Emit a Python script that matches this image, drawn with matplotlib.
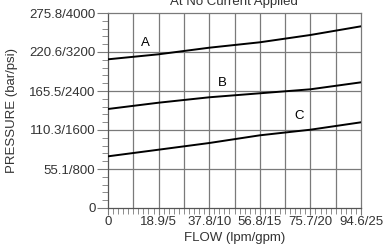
import matplotlib
matplotlib.use("Agg")
import matplotlib.pyplot as plt
from matplotlib.ticker import MultipleLocator

plt.rcParams['font.family'] = ['Liberation Sans', 'DejaVu Sans']

# flow in gpm, pressure in psi
flow = [0, 5, 10, 15, 20, 25]
curve_a = [3050, 3153, 3288, 3399, 3549, 3727]
curve_b = [2031, 2160, 2271, 2353, 2435, 2578]
curve_c = [1060, 1196, 1333, 1491, 1606, 1758]

labels = ['A', 'B', 'C']
label_x = [3.7, 11.3, 18.9]
label_y = [3385, 2564, 1887]

x_ticks = [0, 5, 10, 15, 20, 25]
x_ticklabels = ['0', '18.9/5', '37.8/10', '56.8/15', '75.7/20', '94.6/25']
y_ticks = [0, 800, 1600, 2400, 3200, 4000]
y_ticklabels = ['0', '55.1/800', '110.3/1600', '165.5/2400', '220.6/3200', '275.8/4000']

fig = plt.figure(figsize=(3.84, 2.46), dpi=100)
ax = fig.add_axes([108/384, 1 - 208/246, 253/384, 195/246])

grid_col = '#7a7a7a'
for x in [2.5 * i for i in range(1, 10)]:
    ax.axvline(x, color=grid_col, lw=0.9, zorder=1)
for y in y_ticks[1:-1]:
    ax.axhline(y, color=grid_col, lw=0.9, zorder=1)

for ys in [curve_a, curve_b, curve_c]:
    ax.plot(flow, ys, color='black', lw=1.4, zorder=3)

for lab, lx, ly in zip(labels, label_x, label_y):
    ax.text(lx, ly, lab, fontsize=9.5, ha='center', va='center')

ax.set_xlim(0, 25)
ax.set_ylim(0, 4000)
ax.set_xticks(x_ticks)
ax.set_xticklabels(x_ticklabels)
ax.set_yticks(y_ticks)
ax.set_yticklabels(y_ticklabels)
ax.xaxis.set_minor_locator(MultipleLocator(0.5))
ax.yaxis.set_minor_locator(MultipleLocator(160))
ax.tick_params(axis='both', labelsize=9.5, colors='#333333')
ax.tick_params(axis='x', which='major', length=5, pad=1, color=grid_col)
ax.tick_params(axis='x', which='minor', length=4, color=grid_col)
ax.tick_params(axis='y', which='major', length=8, pad=1, color=grid_col)
ax.tick_params(axis='y', which='minor', length=4, color=grid_col)
for s in ax.spines.values():
    s.set_color(grid_col)
    s.set_linewidth(0.9)
ax.spines['left'].set_color('#555555')
ax.spines['bottom'].set_color('#555555')

ax.set_xlabel('FLOW (lpm/gpm)', fontsize=9.5, labelpad=2.5, color='#333333')
ax.set_ylabel('PRESSURE (bar/psi)', fontsize=9.5, labelpad=8, color='#333333')
fig.text(234/384, 1 - 5/246, 'At No Current Applied', fontsize=9.5,
         ha='center', va='baseline', color='#333333')

fig.savefig('out.png', dpi=100)
